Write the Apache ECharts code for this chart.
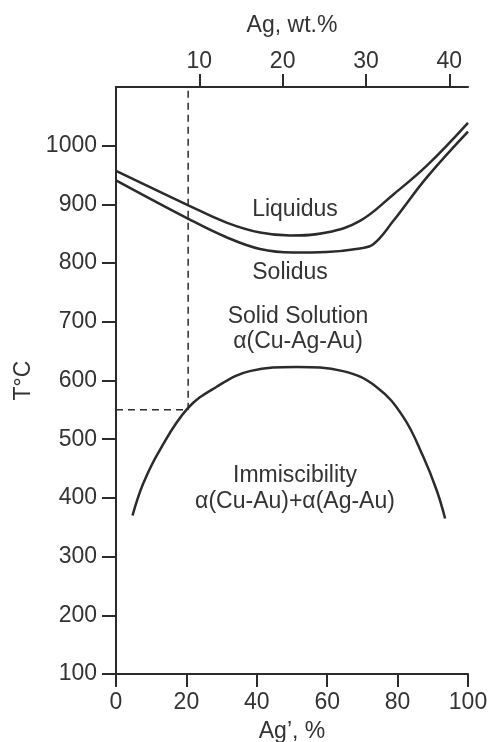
<!DOCTYPE html>
<html>
<head>
<meta charset="utf-8">
<script src="https://cdn.jsdelivr.net/npm/echarts@6/dist/echarts.min.js"></script>
<style>
html, body { margin: 0; padding: 0; background: #fff; }
#main { width: 489px; height: 742px; }
</style>
</head>
<body>
<div id="main"></div>
<script>
// Ag' (%) positions and temperatures
var liqX = [0, 20.7, 31.4, 40.9, 49.4, 59.8, 69.3, 78.8, 88.3, 100];
var liqT = [957, 898, 869, 852, 847, 852, 872, 917, 966, 1039];

var solX = [0, 20.7, 31.4, 40.9, 50.3, 59.8, 69.3, 73.1, 78.8, 88.3, 100];
var solT = [941, 875, 844, 824, 818, 819, 825, 832, 872, 946, 1024];

var misX = [4.7, 7.7, 12.4, 20.3, 28.5, 38, 51.3, 64.5, 74, 81.6, 87.3, 91.1, 93.5];
var misT = [370, 424, 481, 552, 589, 616, 623, 616, 589, 538, 470, 413, 365];

// dashed guide at 550 °C
var guideH = [[0, 550], [20.5, 550]];
var guideV = [[20.5, 550], [20.5, 1100]];

var bottomTicks = [0, 20, 40, 60, 80, 100];
var topTicks = [10, 20, 30, 40];
var yTicks = [100, 200, 300, 400, 500, 600, 700, 800, 900, 1000];
var wtMax = 42.25; // Ag wt.% at Ag' = 100

function pairs(xs, ys) {
    var out = [];
    for (var i = 0; i < xs.length; i++) out.push([xs[i], ys[i]]);
    return out;
}

var ink = '#2b2b2b';
var txt = '#333';
var font = 'Liberation Sans, Arial, sans-serif';
var fs = 23;
var plain = function (v) { return String(v); };

var myChart = echarts.init(document.getElementById('main'));
var option = {
    animation: false,
    textStyle: { fontFamily: font },
    grid: { left: 116, right: 21, top: 87, bottom: 68, containLabel: false, outerBoundsMode: 'none' },
    xAxis: [
        {
            type: 'value', min: 0, max: 100, interval: 20,
            name: 'Ag\u2019, %', nameLocation: 'middle', nameGap: 46,
            nameTextStyle: { fontSize: fs, color: txt, fontFamily: font },
            axisLine: { show: true, lineStyle: { color: ink, width: 2 } },
            axisTick: { show: true, length: 13, lineStyle: { color: ink, width: 2 }, customValues: bottomTicks },
            axisLabel: { fontSize: fs, color: txt, margin: 17, fontFamily: font, customValues: bottomTicks, formatter: plain },
            splitLine: { show: false }
        },
        {
            type: 'value', position: 'top', min: 0, max: wtMax,
            name: 'Ag, wt.%', nameLocation: 'middle', nameGap: 50,
            nameTextStyle: { fontSize: fs, color: txt, fontFamily: font },
            axisLine: { show: true, lineStyle: { color: ink, width: 2 } },
            axisTick: { show: true, length: 13, lineStyle: { color: ink, width: 2 }, customValues: topTicks },
            axisLabel: { fontSize: fs, color: txt, margin: 14, fontFamily: font, customValues: topTicks, formatter: plain },
            splitLine: { show: false }
        }
    ],
    yAxis: [
        {
            type: 'value', min: 100, max: 1100, interval: 100,
            name: 'T\u00b0C', nameLocation: 'middle', nameGap: 80,
            nameTextStyle: { fontSize: fs, color: txt, fontFamily: font },
            axisLine: { show: true, lineStyle: { color: ink, width: 2 } },
            axisTick: { show: true, length: 14, lineStyle: { color: ink, width: 2 }, customValues: yTicks },
            axisLabel: { fontSize: fs, color: txt, margin: 19, fontFamily: font, customValues: yTicks, formatter: plain },
            splitLine: { show: false }
        },
        {
            type: 'value', position: 'right', min: 100, max: 1100,
            axisLine: { show: true, lineStyle: { color: ink, width: 2 } },
            axisTick: { show: false },
            axisLabel: { show: false },
            splitLine: { show: false }
        }
    ],
    series: [
        {
            name: 'Liquidus', type: 'line', smooth: 0.4, symbol: 'none',
            lineStyle: { color: ink, width: 2.5 },
            data: pairs(liqX, liqT)
        },
        {
            name: 'Solidus', type: 'line', smooth: 0.4, symbol: 'none',
            lineStyle: { color: ink, width: 2.5 },
            data: pairs(solX, solT)
        },
        {
            name: 'Immiscibility', type: 'line', smooth: 0.4, symbol: 'none',
            lineStyle: { color: ink, width: 2.5 },
            data: pairs(misX, misT)
        },
        {
            type: 'line', symbol: 'none',
            lineStyle: { color: ink, width: 1.5, type: [7, 5] },
            data: guideH
        },
        {
            type: 'line', symbol: 'none',
            lineStyle: { color: ink, width: 1.5, type: [7, 5] },
            data: guideV
        }
    ],
    graphic: [
        { type: 'text', x: 295, y: 210, style: { text: 'Liquidus', fill: txt, font: fs + 'px ' + font, align: 'center', verticalAlign: 'middle' } },
        { type: 'text', x: 290, y: 273, style: { text: 'Solidus', fill: txt, font: fs + 'px ' + font, align: 'center', verticalAlign: 'middle' } },
        { type: 'text', x: 298, y: 317, style: { text: 'Solid Solution', fill: txt, font: fs + 'px ' + font, align: 'center', verticalAlign: 'middle' } },
        { type: 'text', x: 298, y: 342, style: { text: '\u03b1(Cu-Ag-Au)', fill: txt, font: fs + 'px ' + font, align: 'center', verticalAlign: 'middle' } },
        { type: 'text', x: 295, y: 476, style: { text: 'Immiscibility', fill: txt, font: fs + 'px ' + font, align: 'center', verticalAlign: 'middle' } },
        { type: 'text', x: 295, y: 502, style: { text: '\u03b1(Cu-Au)+\u03b1(Ag-Au)', fill: txt, font: fs + 'px ' + font, align: 'center', verticalAlign: 'middle' } }
    ]
};
myChart.setOption(option);
</script>
</body>
</html>
